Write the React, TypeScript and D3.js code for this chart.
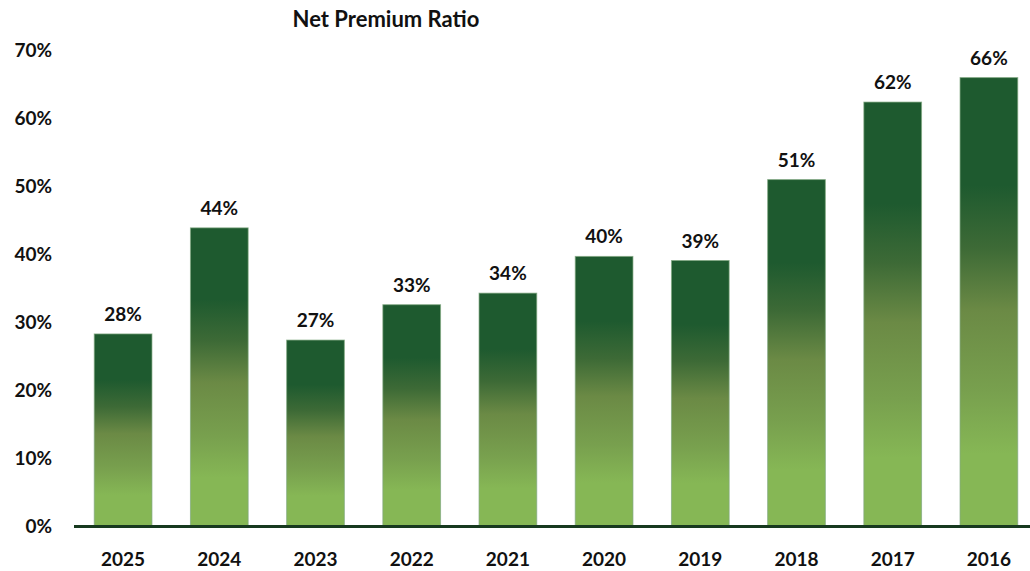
import React from "react";
import * as d3 from "d3";

const categories = ["2025", "2024", "2023", "2022", "2021", "2020", "2019", "2018", "2017", "2016"];
const values = [28.2, 43.8, 27.3, 32.5, 34.2, 39.6, 39.0, 50.9, 62.3, 65.9];
const yTicks = [0, 10, 20, 30, 40, 50, 60, 70];
const title = "Net Premium Ratio";

const W = 1030;
const H = 571;
const FONT = "Lato, 'Open Sans', sans-serif";

export default function App() {
  const x = d3.scaleBand<string>().domain(categories).range([75, 1037]).paddingInner(0.4).paddingOuter(0.2);
  const y = d3.scaleLinear().domain([0, 70]).range([525.7, 49.7]);

  return (
    <svg width={W} height={H} style={{ position: "absolute", left: 0, top: 0 }}>
      <defs>
        <linearGradient id="barGrad" x1="0" y1="0" x2="0" y2="1">
          <stop offset="0" stopColor="#1e5a2f" />
          <stop offset="0.24" stopColor="#1e5a2f" />
          <stop offset="0.38" stopColor="#3d6a36" />
          <stop offset="0.52" stopColor="#6b8a45" />
          <stop offset="0.7" stopColor="#78a04e" />
          <stop offset="0.84" stopColor="#86b755" />
          <stop offset="1" stopColor="#86b755" />
        </linearGradient>
      </defs>
      <rect x={0} y={0} width={W} height={H} fill="#ffffff" />
      <text x={386} y={27} textAnchor="middle" fontFamily={FONT} fontWeight={700} fontSize={22} fill="#111">
        {title}
      </text>
      {yTicks.map((t) => (
        <text key={t} x={52} y={y(t) + 7} textAnchor="end" fontFamily={FONT} fontWeight={700} fontSize={19} fill="#111">
          {t}%
        </text>
      ))}
      {categories.map((c, i) => {
        const bx = x(c)!;
        const bw = x.bandwidth();
        const top = y(values[i]);
        return (
          <g key={c}>
            <rect x={bx} y={top} width={bw} height={y(0) - top} fill="url(#barGrad)" stroke="#7fa77f" strokeWidth={1} strokeOpacity={0.7} />
            <text x={bx + bw / 2} y={top - 13} textAnchor="middle" fontFamily={FONT} fontWeight={700} fontSize={19} fill="#111">
              {Math.round(values[i])}%
            </text>
            <text x={bx + bw / 2} y={566} textAnchor="middle" fontFamily={FONT} fontWeight={700} fontSize={19} fill="#111">
              {c}
            </text>
          </g>
        );
      })}
      <line x1={74} x2={W} y1={526.5} y2={526.5} stroke="#17391f" strokeWidth={3} />
    </svg>
  );
}
